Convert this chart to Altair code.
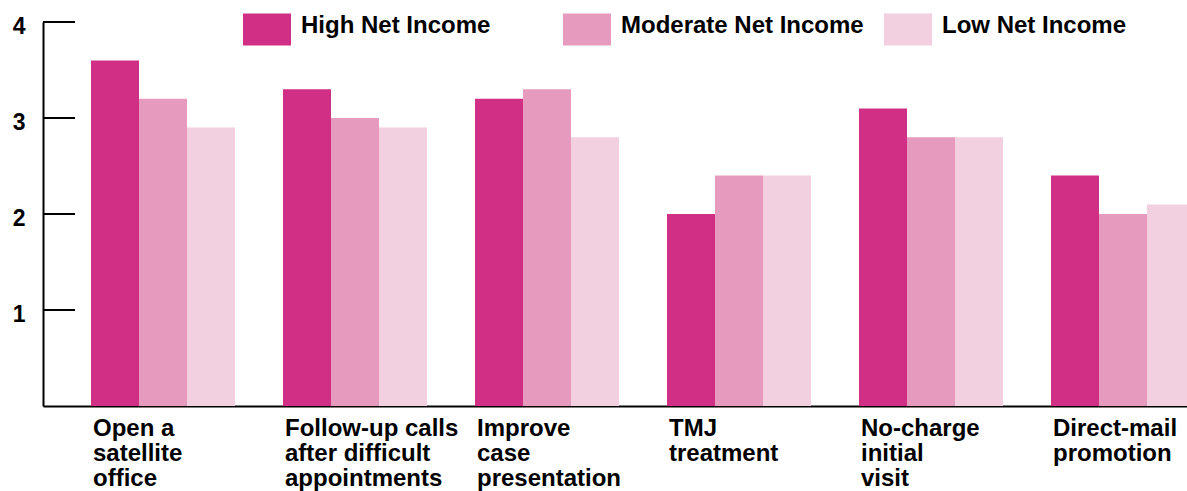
import altair as alt
import pandas as pd

# ---- data ----
categories = [
    "Open a|satellite|office",
    "Follow-up calls|after difficult|appointments",
    "Improve|case|presentation",
    "TMJ|treatment",
    "No-charge|initial|visit",
    "Direct-mail|promotion",
]
series = ["High Net Income", "Moderate Net Income", "Low Net Income"]
high = [3.6, 3.3, 3.2, 2.0, 3.1, 2.4]
moderate = [3.2, 3.0, 3.3, 2.4, 2.8, 2.0]
low = [2.9, 2.9, 2.8, 2.4, 2.8, 2.1]
colors = ["#D12E85", "#E69BBE", "#F2D0E0"]
y_ticks = [1, 2, 3, 4]

FONT = "Liberation Sans"

rows = []
for s, vals in zip(series, [high, moderate, low]):
    for c, v in zip(categories, vals):
        rows.append({"category": c, "series": s, "value": v})
df = pd.DataFrame(rows)
ticks_df = pd.DataFrame({"value": y_ticks})

x_scale = alt.Scale(range=[0, 1200], paddingInner=0.25, paddingOuter=0.25)
y_scale = alt.Scale(domain=[0, 4], nice=False)

x_axis = alt.Axis(
    labelAngle=0, ticks=False, grid=False,
    domainColor="black", domainWidth=2,
    labelAlign="left", labelBaseline="top", labelPadding=10,
    labelLineHeight=25, labelFontSize=24, labelFontWeight="bold",
    labelFont=FONT, labelColor="black",
    labelExpr="split(datum.label, '|')", labelLimit=400,
    labelOverlap=False, labelOffset=-70, title=None,
)
y_axis = alt.Axis(
    values=y_ticks, ticks=False, grid=False,
    domainColor="black", domainWidth=2,
    labelFontSize=23, labelFontWeight="bold", labelFont=FONT,
    labelColor="black", labelPadding=18, labelOffset=4, title=None,
)

legend_x = [200, 520, 841]

layers = []
for s, col, lx in zip(series, colors, legend_x):
    layer = (
        alt.Chart(df)
        .transform_filter(alt.datum.series == s)
        .mark_bar()
        .encode(
            x=alt.X("category:N", sort=categories, scale=x_scale, axis=x_axis),
            xOffset=alt.XOffset("series:N", sort=series,
                                scale=alt.Scale(domain=series, paddingInner=0, paddingOuter=0)),
            y=alt.Y("value:Q", scale=y_scale, axis=y_axis),
            color=alt.Color(
                "series:N",
                scale=alt.Scale(domain=[s], range=[col]),
                legend=alt.Legend(
                    orient="none", legendX=lx, legendY=-20, title=None,
                    symbolType="M-1,-0.525H1V0.81H-1Z", symbolSize=2304,
                    symbolStrokeWidth=0, symbolOpacity=1,
                    labelFontSize=24, labelFontWeight="bold", labelFont=FONT,
                    labelColor="black", labelOffset=10, labelLimit=400,
                ),
            ),
        )
    )
    layers.append(layer)

tick_rules = (
    alt.Chart(ticks_df)
    .mark_rule(color="black", strokeWidth=2)
    .encode(
        y=alt.Y("value:Q", scale=y_scale, axis=y_axis),
        x=alt.value(0),
        x2=alt.value(32),
    )
)

chart = (
    alt.layer(*layers, tick_rules)
    .resolve_scale(color="independent")
    .properties(
        width=1144, height=384,
        padding={"left": 43, "top": 22, "right": 0, "bottom": 85},
        autosize=alt.AutoSizeParams(type="none"),
    )
    .configure_view(stroke=None)
)

chart.save("out.html", embed_options={"renderer": "svg", "actions": False})
